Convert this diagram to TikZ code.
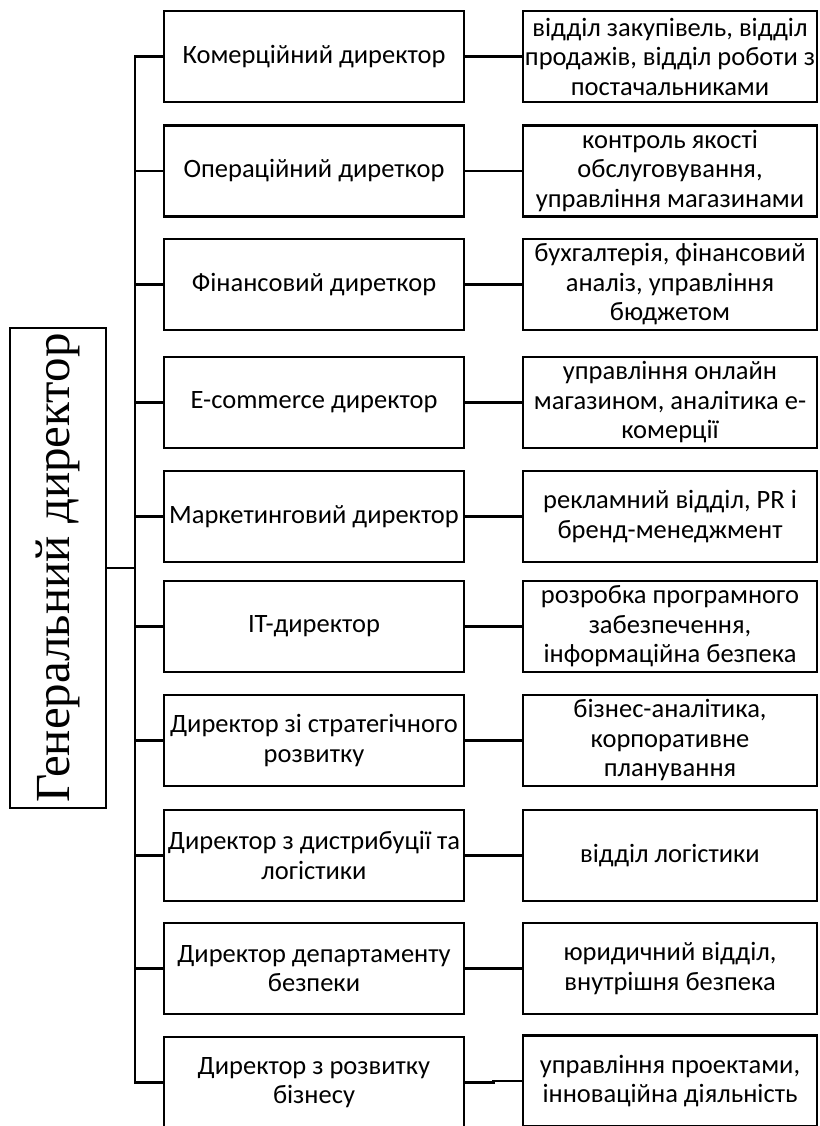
\documentclass[tikz,border=0pt]{standalone}
\usepackage{fontspec}
\setmainfont{Carlito}
\newfontfamily\timesf{Liberation Serif}
\usetikzlibrary{calc}
\begin{document}
\begin{tikzpicture}[x=1pt,y=-1pt,
  box/.style={draw, line width=2.4pt, inner sep=0pt, minimum height=91pt, align=center,
    font=\fontsize{26.5}{29.5}\selectfont},
  midbox/.style={box, minimum width=300pt},
  rbox/.style={box, minimum width=294pt},
  genbox/.style={draw, line width=2.2pt, inner sep=0pt, rotate=90, minimum width=480pt,
    minimum height=96pt, font=\timesf\fontsize{49}{50}\selectfont},
  link/.style={line width=2.2pt},
  trunkline/.style={line width=2.8pt},
]
\useasboundingbox (0,0) rectangle (819,1126);
\coordinate (trunk) at (135,0);

\node[genbox] (g) at (58,568) {Генеральний директор};

\node[midbox] (m1) at (314,56.5) {Комерційний директор};
\node[midbox] (m2) at (314,171) {Операційний диреткор};
\node[midbox] (m3) at (314,284.5) {Фінансовий диреткор};
\node[midbox] (m4) at (314,402.5) {E-commerce директор};
\node[midbox] (m5) at (314,516.5) {Маркетинговий директор};
\node[midbox] (m6) at (314,626.5) {IT-директор};
\node[midbox] (m7) at (314,740.5) {Директор зі стратегічного\\розвитку};
\node[midbox] (m8) at (314,855.5) {Директор з дистрибуції та\\логістики};
\node[midbox] (m9) at (314,968.5) {Директор департаменту\\безпеки};
\node[midbox] (m10) at (314,1082.5) {Директор з розвитку\\бізнесу};

\node[rbox] (r1) at (670,56.5) {відділ закупівель, відділ\\продажів, відділ роботи з\\постачальниками};
\node[rbox] (r2) at (670,171) {контроль якості\\обслуговування,\\управління магазинами};
\node[rbox] (r3) at (670,284.5) {бухгалтерія, фінансовий\\аналіз, управління\\бюджетом};
\node[rbox] (r4) at (670,402.5) {управління онлайн\\магазином, аналітика е-\\комерції};
\node[rbox] (r5) at (670,516.5) {рекламний відділ, PR і\\бренд-менеджмент};
\node[rbox] (r6) at (670,626.5) {розробка програмного\\забезпечення,\\інформаційна безпека};
\node[rbox] (r7) at (670,740.5) {бізнес-аналітика,\\корпоративне\\планування};
\node[rbox] (r8) at (670,855.5) {відділ логістики};
\node[rbox] (r9) at (670,968.5) {юридичний відділ,\\внутрішня безпека};
\node[rbox] (r10) at (670,1081) {управління проектами,\\інноваційна діяльність};

% trunk with first and last branches
\draw[trunkline] (m1.west) -- (m1.west -| trunk) -- (m10.west -| trunk) -- (m10.west);
\foreach \i in {2,...,9} {
  \draw[link] (m\i.west) -- (m\i.west -| trunk);
}
\draw[trunkline] (g.south) -- (g.south -| trunk);

% middle to right
\foreach \i in {1,...,9} {
  \draw[link] (m\i.east) -- (r\i.west);
}
\draw[link] (m10.east) -| ($(m10.east)!.5!(r10.west)$) |- (r10.west);
\end{tikzpicture}
\end{document}
